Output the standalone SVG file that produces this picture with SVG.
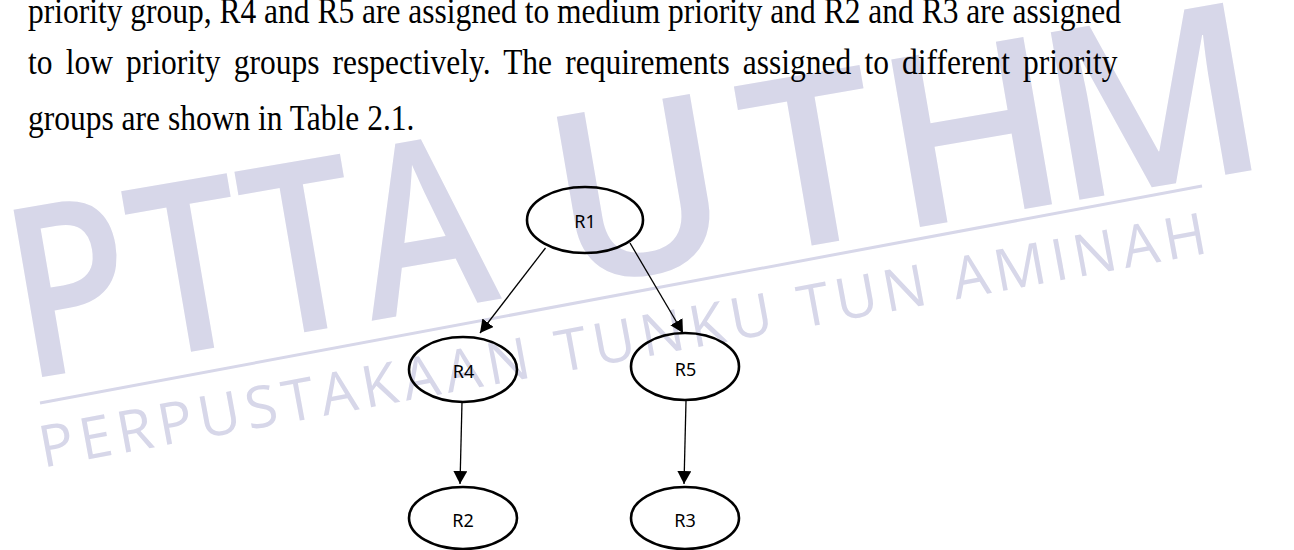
<svg xmlns="http://www.w3.org/2000/svg" width="1294" height="550" viewBox="0 0 1294 550">
<style>
.wm{fill:#d7d7e9;font-family:"Open Sans","Noto Sans",sans-serif}
.body{font-family:"Liberation Serif","Times New Roman",serif;font-size:31.5px;fill:#000}
.node ellipse{fill:none;stroke:#000;stroke-width:2.6}
.node text{font-family:"Noto Sans","Open Sans",sans-serif;font-size:18px;text-anchor:middle;fill:#000}
.edge{stroke:#000;stroke-width:1.3;fill:none;marker-end:url(#arr)}
</style>
<defs>
<marker id="arr" markerUnits="userSpaceOnUse" markerWidth="14" markerHeight="14" refX="13" refY="7" orient="auto"><path d="M0,0 L13,7 L0,14 z" fill="#000"/></marker>
</defs>
<rect width="1294" height="550" fill="#fff"/>
<g id="watermark">
<g transform="translate(37 378) rotate(-9.7)">
<g transform="scale(0.84 1)"><text class="wm" font-size="238" font-weight="600" text-anchor="middle"><tspan x="57" y="0">P</tspan><tspan x="200" y="0">T</tspan><tspan x="337" y="0">T</tspan><tspan x="483" y="0">A </tspan></text></g>
<text class="wm" font-size="238" font-weight="600" text-anchor="middle"><tspan x="624" y="0">U</tspan><tspan x="800" y="0">T</tspan><tspan x="963" y="0">H</tspan><tspan x="1145" y="0">M</tspan></text>
</g>
<line x1="40" y1="403" x2="1202" y2="186" stroke="#d7d7e9" stroke-width="3"/>
<g transform="translate(47 467) rotate(-10.44)"><text class="wm" font-size="58" x="-4" y="0" textLength="1186" lengthAdjust="spacing">PERPUSTAKAAN TUNKU TUN AMINAH</text></g>
</g>
<g id="paragraph" transform="scale(1 1.14)">
<text class="body" x="28" y="20.4" textLength="1093" lengthAdjust="spacing">priority group, R4 and R5 are assigned to medium priority and R2 and R3 are assigned</text>
<text class="body" x="28" y="64.9" word-spacing="5.3">to low priority groups respectively. The requirements assigned to different priority</text>
<text class="body" x="28" y="114">groups are shown in Table 2.1.</text>
</g>
<g id="connectors">
<line class="edge" x1="545.5" y1="248" x2="480" y2="333"/>
<line class="edge" x1="630" y1="243" x2="683" y2="333"/>
<line class="edge" x1="462" y1="402" x2="460" y2="484"/>
<line class="edge" x1="686" y1="401" x2="684" y2="484"/>
</g>
<g id="R1" class="node"><ellipse cx="585" cy="220" rx="58" ry="33"/><text x="585" y="228">R1</text></g>
<g id="R4" class="node"><ellipse cx="463" cy="369.5" rx="54" ry="32.5"/><text x="463.5" y="378">R4</text></g>
<g id="R5" class="node"><ellipse cx="685" cy="366.5" rx="54" ry="33.5"/><text x="685.5" y="376">R5</text></g>
<g id="R2" class="node"><ellipse cx="463" cy="518" rx="54" ry="31"/><text x="463" y="527">R2</text></g>
<g id="R3" class="node"><ellipse cx="685" cy="518" rx="54" ry="31"/><text x="685" y="527">R3</text></g>
</svg>
